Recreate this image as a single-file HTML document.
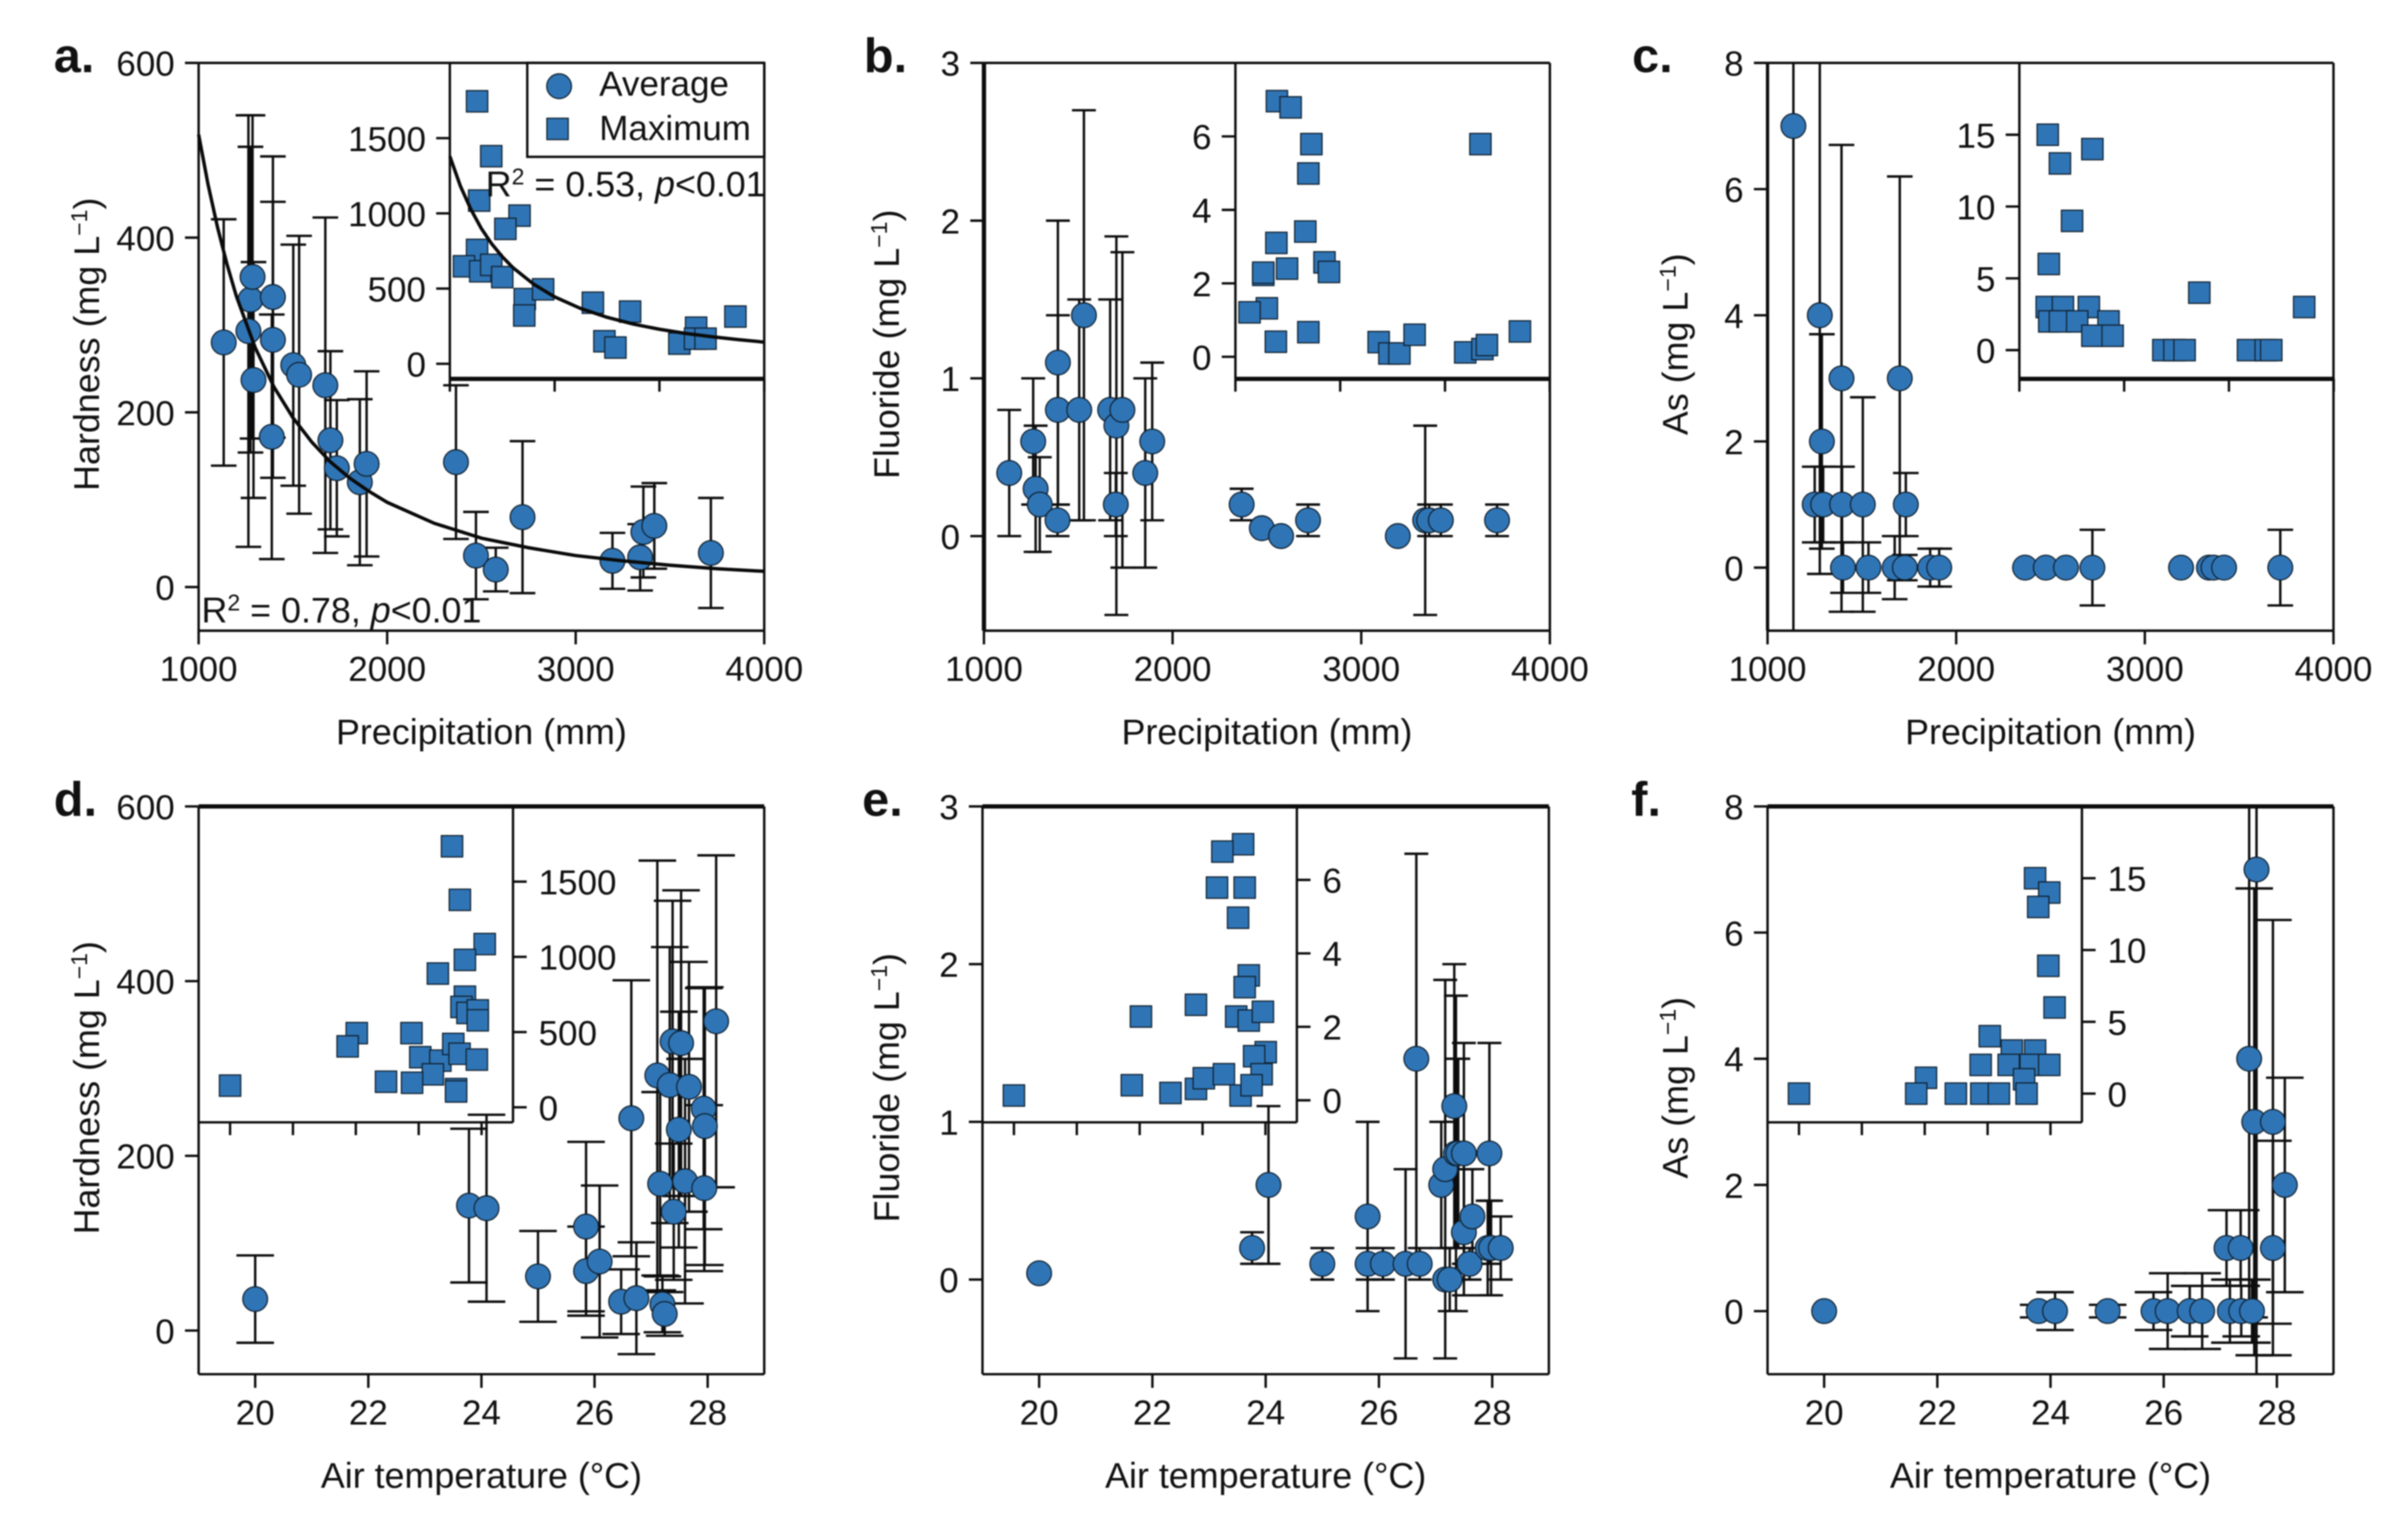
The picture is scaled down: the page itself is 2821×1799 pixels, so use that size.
<!DOCTYPE html>
<html lang="en">
<head>
<meta charset="utf-8">
<title>Hardness, fluoride and arsenic versus precipitation and air temperature</title>
<style>
html,body{margin:0;padding:0;background:#fff;}
svg{display:block;filter:blur(0.8px);}
text{font-family:"Liberation Sans",Arial,sans-serif;fill:#111;}
</style>
</head>
<body>
<svg id="chart" xmlns="http://www.w3.org/2000/svg" width="2821" height="1799" viewBox="0 0 2821 1799">
<rect x="0" y="0" width="2821" height="1799" fill="#fff"/>
</svg>
<script>
// Panel a
var aX=[1133,1264,1275,1286,1291,1388,1394,1394,1502,1533,1672,1699,1733,1855,1891,2365,2471,2576,2718,3195,3342,3359,3417,3717];
var aY=[280,293,329,355,237,172,332,283,254,243,231,168,136,120,141,143,36,20,80,30,34,63,70,39];
var aErr=[141,247,175,185,135,140,161,158,138,159,192,102,78,95,106,88,50,25,87,32,38,52,49,63];
var aMaxX=[1260,1395,1280,1665,1530,1260,1135,1290,1395,1500,1715,1710,1890,2365,2475,2580,2720,3190,3350,3340,3440,3725];
var aMaxY=[1745,1380,1085,985,897,757,648,615,658,576,430,321,495,406,150,108,347,134,240,167,167,314];
var aFitX=[1000,1050,1100,1150,1200,1300,1400,1500,1600,1700,1800,1900,2000,2250,2500,2750,3000,3250,3500,3750,4000];
var aFitY=[518,461,412,370,333,274,229,194,166,143,125,110,97,73,56,45,36,30,25,21,18];
var aMaxFitX=[1000,1100,1200,1300,1400,1500,1600,1800,2000,2250,2500,2750,3000,3250,3500,3750,4000];
var aMaxFitY=[1379,1182,1027,900,797,712,640,529,445,367,309,264,230,202,180,161,144];
// Panel b
var bX=[1134,1261,1274,1296,1392,1392,1390,1505,1530,1669,1702,1699,1734,1855,1892,2366,2473,2575,2718,3194,3339,3360,3422,3720];
var bY=[0.4,0.6,0.3,0.2,1.1,0.8,0.1,0.8,1.4,0.8,0.7,0.2,0.8,0.4,0.6,0.2,0.05,0,0.1,0,0.1,0.1,0.1,0.1];
var bErr=[0.4,0.4,0.4,0.3,0.9,0.6,0.1,0.7,1.3,0.7,1.2,0.2,1.0,0.6,0.5,0.1,0,0,0.1,0,0.6,0.1,0.1,0.1];
var bMaxX=[1396,1527,1725,1696,1667,1391,1850,1893,1493,1266,1266,1300,1135,1386,1696,2367,2469,2565,2710,3193,3357,3400,3715,3338];
var bMaxY=[6.96,6.79,5.79,4.99,3.41,3.1,2.57,2.31,2.4,2.23,2.29,1.32,1.21,0.41,0.67,0.4,0.09,0.09,0.6,0.12,0.21,0.32,0.69,5.79];
// Panel c
var cX=[1137,1277,1288,1250,1295,1392,1395,1400,1505,1535,1674,1701,1728,1733,1862,1910,2365,2475,2582,2722,3192,3340,3364,3420,3718];
var cY=[7,4,2,1,1,3,1,0,1,0,0,3,0,1,0,0,0,0,0,0,0,0,0,0,0];
var cErr=[8.5,4.1,1.7,0.6,0.6,3.7,0.6,0.4,1.7,0.4,0.5,3.2,0.2,0.5,0.3,0.3,0,0,0,0.6,0,0,0,0,0.6];
var cMaxX=[1271,1387,1697,1503,1281,1261,1416,1663,1285,1387,1552,1851,1697,1890,2374,2480,2577,2717,3182,3351,3404,3718];
var cMaxY=[15,13,14,9,6,3,3,3,2,2,2,2,1,1,0,0,0,4,0,0,0,3];
// Panel d
var dX=[20,23.78,24.09,25,25.85,25.85,26.09,26.47,26.74,26.65,27.11,27.16,27.2,27.24,27.33,27.38,27.4,27.49,27.53,27.6,27.67,27.93,27.95,27.94,28.15];
var dY=[36,143,140,62,119,68,79,33,37,243,292,168,30,19,281,331,136,230,329,171,279,254,234,163,354];
var dErr=[50,88,107,52,97,51,87,37,64,158,246,105,32,25,158,161,78,135,175,140,143,138,159,95,190];
var dMaxX=[27.06,27.31,28.1,27.47,26.61,27.47,27.36,27.55,27.88,27.88,24.03,23.74,25.77,26.05,26.69,27.1,27.3,27.85,26.45,24.96,25.79,27.19,27.19,20];
var dMaxY=[1735,1379,1085,980,889,735,667,627,644,578,493,405,493,333,310,421,356,317,219,170,163,121,105,144];
// Panel e
var eX=[20,23.76,24.05,25,25.8,25.8,26.07,26.47,26.72,26.66,27.1,27.17,27.17,27.25,27.33,27.36,27.4,27.5,27.5,27.65,27.6,27.95,27.92,27.98,28.15];
var eY=[0.04,0.2,0.6,0.1,0.4,0.1,0.1,0.1,0.1,1.4,0.6,0.7,0,0,1.1,0.8,0.8,0.8,0.3,0.4,0.1,0.8,0.2,0.2,0.2];
var eErr=[0,0.1,0.5,0.1,0.6,0.1,0.1,0.6,0.1,1.3,0.4,1.2,0,0.2,0.9,1.0,0.6,0.7,0.4,0.3,0.1,0.7,0.3,0.3,0.2];
var eMaxX=[27.29,26.63,27.34,26.46,27.13,27.47,27.34,25.79,24.04,27.07,27.47,27.92,28.01,27.64,27.88,23.75,24.98,25.79,26.04,26.68,27.21,27.56,20];
var eMaxY=[6.97,6.77,5.79,5.79,4.97,3.4,3.08,2.6,2.28,2.28,2.17,2.41,1.31,1.2,0.71,0.41,0.2,0.31,0.6,0.71,0.13,0.41,0.13];
// Panel f
var fX=[20,23.79,24.08,25.01,25.82,26.07,26.46,26.68,27.11,27.17,27.36,27.37,27.51,27.56,27.6,27.64,27.93,27.93,28.14];
var fY=[0,0,0,0,0,0,0,0,1,0,1,0,4,0,3,7,3,1,2];
var fErr=[0,0.1,0.3,0.1,0.3,0.6,0.4,0.6,0.6,0.5,0.6,0.4,4.1,0.5,3.7,8.5,3.2,1.7,1.7];
var fMaxX=[27.51,27.96,27.61,27.93,28.13,26.07,26.77,27.51,24.04,25.78,26.67,27.37,27.96,27.16,23.73,24.99,25.8,26.36,27.24,20];
var fMaxY=[15,14,13,8.9,6,4,3,3,1.1,2,2,2,2,1,0,0,0,0,0,0];
// Tick labels
var precipTicks=[1000,2000,3000,4000];
var tempTicks=[20,22,24,26,28];
var hardnessTicks=[0,200,400,600];
var fluorideTicks=[0,1,2,3];
var asTicks=[0,2,4,6,8];
var hardnessMaxTicks=[0,500,1000,1500];
var fluorideMaxTicks=[0,2,4,6];
var asMaxTicks=[0,5,10,15];

var NS='http://www.w3.org/2000/svg';
var svg=document.getElementById('chart');
var BLUE='#2f75b6', EDGE='#10202e', INK='#0c0c0c';

function make(tag,attrs,parent){
  var n=document.createElementNS(NS,tag);
  for(var k in attrs){n.setAttribute(k,attrs[k]);}
  parent.appendChild(n);
  return n;
}
function linear(d0,d1,r0,r1){
  return function(v){return r0+(v-d0)/(d1-d0)*(r1-r0);};
}
function seg(x1,y1,x2,y2,w,parent,name){
  var l=make('line',{x1:x1,y1:y1,x2:x2,y2:y2,stroke:INK,'stroke-width':w},parent);
  
  
  return l;
}
function label(x,y,str,anchor,size,parent,name){
  var t=make('text',{x:x,y:y,'text-anchor':anchor,'font-size':size},parent);
  t.textContent=str;
  
  
  return t;
}
function fitLine(xs,ys,sx,sy,parent,name){
  var pts=xs.map(function(v,i){return sx(v).toFixed(1)+','+sy(ys[i]).toFixed(1);}).join(' ');
  var p=make('polyline',{points:pts,fill:'none',stroke:'#0a0a0a','stroke-width':4},parent);
  
  
}

function drawPanel(c){
  var g=make('g',{},svg);
  
  
  var H=665;
  var T=c.top,B=c.top+H,L=c.left,R=c.left+c.w;
  var sx=linear(c.xDom[0],c.xDom[1],L,R);
  var sy=linear(c.yDom[0],c.yDom[1],B,T);
  var cx=(L+R)/2, cy=(T+B)/2;

  var clip=make('clipPath',{id:'clip-'+c.id},g);
  make('rect',{x:L,y:T,width:c.w,height:H},clip);

  seg(L,T,R,T,c.topW,g,'plot-top-edge');
  seg(L,B,R,B,2.8,g,'plot-bottom-edge');
  seg(L,T,L,B,c.leftW,g,'plot-left-edge');
  seg(R,T,R,B,2.8,g,'plot-right-edge');

  c.xTicks.forEach(function(v){
    seg(sx(v),B,sx(v),B+16,2.8,g,'x-tick');
    label(sx(v),B+59,String(v),'middle',41,g,'x-tick-label');
  });
  c.yTicks.forEach(function(v){
    seg(L-16,sy(v),L,sy(v),2.8,g,'y-tick');
    label(L-28,sy(v)+15,String(v),'end',41,g,'y-tick-label');
  });

  label(cx,B+133,c.xTitle,'middle',42,g,'x-axis-title');
  var yt=make('text',{transform:'translate('+(L-c.yTitleGap)+','+(cy-3)+') rotate(-90)','text-anchor':'middle','font-size':42},g);
  
  
  var s1=make('tspan',{},yt);
  s1.textContent=c.yTitle+' (mg L';
  var s2=make('tspan',{dy:-14,'font-size':27},yt);
  s2.textContent='\u22121';
  var s3=make('tspan',{dy:14},yt);
  s3.textContent=')';

  label(c.letterX,T+11,c.id+'.','start',57,g,'panel-letter').setAttribute('font-weight','bold');

  var bars=make('g',{'clip-path':'url(#clip-'+c.id+')'},g);
  
  
  c.x.forEach(function(v,i){
    if(c.err[i]===0){return;}
    var px=sx(v),hi=sy(c.y[i]+c.err[i]),lo=sy(c.y[i]-c.err[i]);
    seg(px,hi,px,lo,2.8,bars,'error-bar');
    seg(px-c.cap,hi,px+c.cap,hi,2.8,bars,'error-cap-top');
    seg(px-c.cap,lo,px+c.cap,lo,2.8,bars,'error-cap-bottom');
  });

  c.x.forEach(function(v,i){
    var dot=make('circle',{cx:sx(v),cy:sy(c.y[i]),r:14.5,fill:BLUE,stroke:EDGE,'stroke-width':1.4},g);
    
    
  });
  if(c.fitX){fitLine(c.fitX,c.fitY,sx,sy,g,'average-fit-curve');}

  // Inset
  var I=make('g',{},g);
  
  
  var iL=c.insetLeft,iR=c.insetLeft+368.3,iT=T,iB=T+370;
  var ix=linear(c.xDom[0],c.xDom[1],iL,iR);
  var iy=linear(c.insetDom[0],c.insetDom[1],iB,iT);
  c.maxX.forEach(function(v,i){
    var sq=make('rect',{x:ix(v)-12.5,y:iy(c.maxY[i])-12.5,width:25,height:25,fill:BLUE,stroke:EDGE,'stroke-width':1.4},I);
    
    
  });
  if(c.maxFitX){fitLine(c.maxFitX,c.maxFitY,ix,iy,I,'maximum-fit-curve');}
  var side=c.insetSide==='right'?iR:iL;
  seg(side,iT,side,iB,2.8,I,'inset-y-axis');
  seg(iL,iB,iR,iB,c.insetBottomW,I,'inset-x-axis');
  c.xTicks.forEach(function(v){
    seg(ix(v),iB,ix(v),iB+15,2.8,I,'inset-x-tick');
  });
  c.insetTicks.forEach(function(v){
    if(c.insetSide==='right'){
      seg(iR,iy(v),iR+16,iy(v),2.8,I,'inset-y-tick');
      label(iR+30,iy(v)+15,String(v),'start',41,I,'inset-y-tick-label');
    }else{
      seg(iL-16,iy(v),iL,iy(v),2.8,I,'inset-y-tick');
      label(iL-28,iy(v)+15,String(v),'end',41,I,'inset-y-tick-label');
    }
  });
}

var panels=[
 {id:'a',left:232.7,top:73.7,w:662.6,topW:2.8,leftW:2.8,insetBottomW:5,letterX:63,yTitleGap:116.7,cap:15,xDom:[1000,4000],yDom:[-50,600],xTicks:precipTicks,yTicks:hardnessTicks,xTitle:'Precipitation (mm)',yTitle:'Hardness',x:aX,y:aY,err:aErr,fitX:aFitX,fitY:aFitY,insetLeft:527,insetSide:'left',insetDom:[-100,2000],insetTicks:hardnessMaxTicks,maxX:aMaxX,maxY:aMaxY,maxFitX:aMaxFitX,maxFitY:aMaxFitY},
 {id:'b',left:1152.7,top:73.7,w:663,topW:2.8,leftW:5,insetBottomW:5,letterX:1012,yTitleGap:99.7,cap:14,xDom:[1000,4000],yDom:[-0.6,3],xTicks:precipTicks,yTicks:fluorideTicks,xTitle:'Precipitation (mm)',yTitle:'Fluoride',x:bX,y:bY,err:bErr,insetLeft:1447.3,insetSide:'left',insetDom:[-0.6,8],insetTicks:fluorideMaxTicks,maxX:bMaxX,maxY:bMaxY},
 {id:'c',left:2070.7,top:73.7,w:663,topW:2.8,leftW:3.8,insetBottomW:5,letterX:1912,yTitleGap:93.7,cap:15,xDom:[1000,4000],yDom:[-1,8],xTicks:precipTicks,yTicks:asTicks,xTitle:'Precipitation (mm)',yTitle:'As',x:cX,y:cY,err:cErr,insetLeft:2365.7,insetSide:'left',insetDom:[-2,20],insetTicks:asMaxTicks,maxX:cMaxX,maxY:cMaxY},
 {id:'d',left:232.7,top:944.5,w:662.6,topW:5,leftW:2.8,insetBottomW:2.8,letterX:63,yTitleGap:116.7,cap:22,xDom:[19,29],yDom:[-50,600],xTicks:tempTicks,yTicks:hardnessTicks,xTitle:'Air temperature (\u00B0C)',yTitle:'Hardness',x:dX,y:dY,err:dErr,insetLeft:232.7,insetSide:'right',insetDom:[-100,2000],insetTicks:hardnessMaxTicks,maxX:dMaxX,maxY:dMaxY},
 {id:'e',left:1151,top:944.5,w:663.5,topW:5,leftW:2.8,insetBottomW:2.8,letterX:1010,yTitleGap:98,cap:14,xDom:[19,29],yDom:[-0.6,3],xTicks:tempTicks,yTicks:fluorideTicks,xTitle:'Air temperature (\u00B0C)',yTitle:'Fluoride',x:eX,y:eY,err:eErr,insetLeft:1151,insetSide:'right',insetDom:[-0.6,8],insetTicks:fluorideMaxTicks,maxX:eMaxX,maxY:eMaxY},
 {id:'f',left:2070.7,top:944.5,w:663,topW:5,leftW:2.8,insetBottomW:2.8,letterX:1911,yTitleGap:93.7,cap:22,xDom:[19,29],yDom:[-1,8],xTicks:tempTicks,yTicks:asTicks,xTitle:'Air temperature (\u00B0C)',yTitle:'As',x:fX,y:fY,err:fErr,insetLeft:2070.7,insetSide:'right',insetDom:[-2,20],insetTicks:asMaxTicks,maxX:fMaxX,maxY:fMaxY}
];
panels.forEach(drawPanel);

// Legend and fit annotations
var legend=make('g',{},svg);


var lb=make('rect',{x:617.7,y:73.7,width:277.6,height:110,fill:'#fff',stroke:INK,'stroke-width':2.8},legend);


var lc=make('circle',{cx:655,cy:101,r:14.5,fill:BLUE,stroke:EDGE,'stroke-width':1.4},legend);


label(702,112,'Average','start',41,legend,'legend-average-label');
var ls=make('rect',{x:640.7,y:138.5,width:25,height:25,fill:BLUE,stroke:EDGE,'stroke-width':1.4},legend);


label(702,164,'Maximum','start',41,legend,'legend-maximum-label');

function stat(x,y,r2,name){
  var t=make('text',{x:x,y:y,'font-size':42},svg);
  
  
  var a=make('tspan',{},t);
  a.textContent='R';
  var b=make('tspan',{dy:-14,'font-size':27},t);
  b.textContent='2';
  var d=make('tspan',{dy:14},t);
  d.textContent=' = '+r2+', ';
  var e=make('tspan',{'font-style':'italic'},t);
  e.textContent='p';
  var f=make('tspan',{},t);
  f.textContent='<0.01';
}
stat(236,729,'0.78','average-fit-statistic');
stat(569,230,'0.53','maximum-fit-statistic');
</script>
</body>
</html>
